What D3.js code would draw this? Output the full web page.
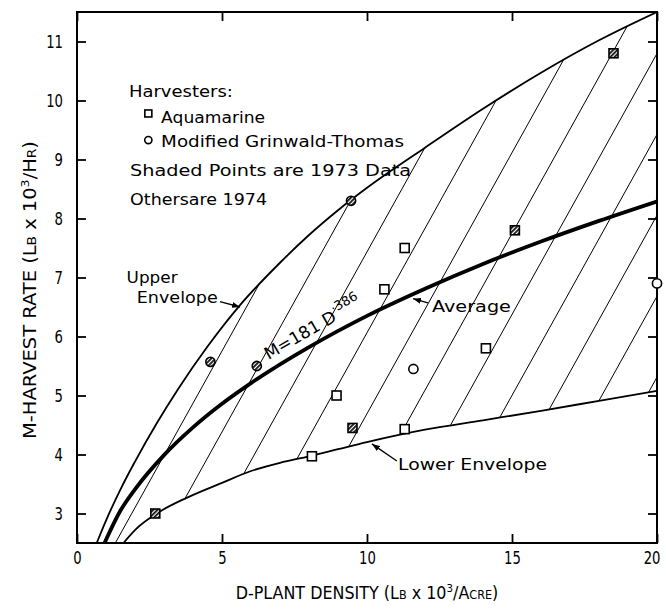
<!DOCTYPE html>
<html>
<head>
<meta charset="utf-8">
<script src="https://cdn.jsdelivr.net/npm/d3@7"></script>
<style>
  body { margin: 0; background: #fff; }
</style>
</head>
<body>
<div id="chart"></div>
<script>
// curves (D = plant density, M = harvest rate)
const upperD = [0.68, 1, 1.5, 2, 2.75, 3.5, 4.5, 5.6, 7, 8, 9, 10, 12, 14, 16, 18, 20];
const upperM = [2.5, 2.88, 3.41, 3.88, 4.53, 5.12, 5.83, 6.52, 7.25, 7.72, 8.14, 8.52, 9.2, 9.86, 10.47, 11.02, 11.5];

const lowerD = [1.6, 2, 2.75, 3.8, 5, 6, 7, 8, 9, 10, 12, 14, 16, 18, 20];
const lowerM = [2.5, 2.72, 3.0, 3.27, 3.52, 3.72, 3.86, 3.97, 4.09, 4.21, 4.42, 4.58, 4.74, 4.91, 5.08];

const avgD = [0.95, 1.5, 2, 3, 4, 5, 6, 8, 10, 12, 14, 16, 18, 20];
const avgM = [2.5, 3.05, 3.41, 3.99, 4.46, 4.86, 5.21, 5.82, 6.35, 6.81, 7.23, 7.61, 7.96, 8.29];

// harvester test points, year 1973 = shaded
const aquaD    = [2.7, 8.1, 9.5, 8.95, 11.3, 14.1, 10.6, 11.3, 15.1, 18.5];
const aquaM    = [3.0, 3.97, 4.45, 5.0, 4.43, 5.8, 6.8, 7.5, 7.8, 10.8];
const aquaYear = [1973, 1974, 1973, 1974, 1974, 1974, 1974, 1974, 1973, 1973];

const grinD    = [4.6, 6.2, 9.45, 11.6, 20];
const grinM    = [5.57, 5.5, 8.3, 5.45, 6.9];
const grinYear = [1973, 1973, 1973, 1974, 1974];

const xTicks = [0, 5, 10, 15, 20];
const yTicks = [3, 4, 5, 6, 7, 8, 9, 10, 11];

const width = 666, height = 610;
const margin = { top: 12, right: 9, bottom: 67, left: 77 };

const x = d3.scaleLinear().domain([0, 20]).range([margin.left, width - margin.right]);
const y = d3.scaleLinear().domain([2.5, 11.5]).range([height - margin.bottom, margin.top]);

const svg = d3.select('#chart').append('svg')
    .attr('width', width)
    .attr('height', height);

const defs = svg.append('defs');

defs.append('clipPath').attr('id', 'plot')
    .append('rect')
    .attr('x', x(0)).attr('y', y(11.5))
    .attr('width', x(20) - x(0)).attr('height', y(2.5) - y(11.5));

const lineGen = d3.line()
    .x(d => x(d[0]))
    .y(d => y(d[1]))
    .curve(d3.curveMonotoneX);

const upperPts = d3.zip(upperD, upperM);
const lowerPts = d3.zip(lowerD, lowerM);
const avgPts = d3.zip(avgD, avgM);

// region right of / below the upper envelope
defs.append('clipPath').attr('id', 'belowUpper')
    .append('path')
    .attr('d', lineGen(upperPts) + `L${x(20)},${y(2.5)}Z`);
// region left of / above the lower envelope
defs.append('clipPath').attr('id', 'aboveLower')
    .append('path')
    .attr('d', lineGen(lowerPts) + `L${x(20)},${y(11.5)}L${x(0)},${y(11.5)}L${x(0)},${y(2.5)}Z`);

// hatch fill for 1973 points
const pat = defs.append('pattern')
    .attr('id', 'shade')
    .attr('patternUnits', 'userSpaceOnUse')
    .attr('width', 3).attr('height', 3)
    .attr('patternTransform', 'rotate(45)');
pat.append('rect').attr('width', 3).attr('height', 3).attr('fill', '#fff');
pat.append('rect').attr('width', 1.8).attr('height', 3).attr('fill', '#111');

defs.append('marker')
    .attr('id', 'arrow')
    .attr('viewBox', '0 0 8 6')
    .attr('refX', 8).attr('refY', 3)
    .attr('markerWidth', 8).attr('markerHeight', 6)
    .attr('markerUnits', 'userSpaceOnUse')
    .attr('orient', 'auto')
    .append('path')
    .attr('d', 'M0,0L8,3L0,6Z')
    .attr('fill', '#000');

const plot = svg.append('g').attr('clip-path', 'url(#plot)');

// diagonal hatching between the envelopes
const hatch = { anchorD: 7.6, anchorM: 3.94, stepD: 1.55, slope: 1.8 };
const hatchG = plot.append('g').attr('clip-path', 'url(#belowUpper)')
    .append('g').attr('clip-path', 'url(#aboveLower)');
const ks = d3.range(-6, 16);
hatchG.selectAll('.hatch')
    .data(ks)
    .enter().append('line')
    .attr('class', 'hatch')
    .attr('x1', k => x(hatch.anchorD + k * hatch.stepD) - 400)
    .attr('y1', y(hatch.anchorM) + 400 * hatch.slope)
    .attr('x2', k => x(hatch.anchorD + k * hatch.stepD) + 400)
    .attr('y2', y(hatch.anchorM) - 400 * hatch.slope)
    .attr('stroke', '#000')
    .attr('stroke-width', 1);

plot.append('path')
    .attr('d', lineGen(upperPts))
    .attr('fill', 'none').attr('stroke', '#000').attr('stroke-width', 1.8);
plot.append('path')
    .attr('d', lineGen(lowerPts))
    .attr('fill', 'none').attr('stroke', '#000').attr('stroke-width', 1.8);
plot.append('path')
    .attr('d', lineGen(avgPts))
    .attr('fill', 'none').attr('stroke', '#000').attr('stroke-width', 3.8);

// frame
svg.append('rect')
    .attr('x', x(0)).attr('y', y(11.5))
    .attr('width', x(20) - x(0)).attr('height', y(2.5) - y(11.5))
    .attr('fill', 'none').attr('stroke', '#000').attr('stroke-width', 2);

// axes, ticks pointing inward
const narrowFont = '"DejaVu Sans", sans-serif';
const axisFont = g => g.selectAll('text')
    .attr('font-family', narrowFont)
    .attr('font-size', 18)
    .attr('fill', '#000')
    .attr('textLength', function () { return this.textContent.length * 8.4; })
    .attr('lengthAdjust', 'spacingAndGlyphs');
const cleanAxis = g => {
    g.select('.domain').remove();
    g.selectAll('line').attr('stroke', '#000').attr('stroke-width', 1.8);
};

svg.append('g')
    .attr('transform', `translate(${x(0)},0)`)
    .call(d3.axisLeft(y).tickValues(yTicks).tickSize(-9).tickPadding(14).tickFormat(d3.format('d')))
    .call(cleanAxis).call(axisFont);
svg.append('g')
    .attr('transform', `translate(${x(20)},0)`)
    .call(d3.axisRight(y).tickValues(yTicks).tickSize(-9).tickFormat(''))
    .call(cleanAxis);
const xAxisG = svg.append('g')
    .attr('transform', `translate(0,${y(2.5)})`)
    .call(d3.axisBottom(x).tickValues(xTicks).tickSize(-9).tickPadding(8).tickFormat(d3.format('d')))
    .call(cleanAxis).call(axisFont);
// last label sits against the page edge, keep it inside
xAxisG.selectAll('text').filter(d => d === 20).attr('text-anchor', 'end').attr('dx', 3);
svg.append('g')
    .attr('transform', `translate(0,${y(11.5)})`)
    .call(d3.axisTop(x).tickValues(xTicks).tickSize(-9).tickFormat(''))
    .call(cleanAxis);

// axis titles, small caps done by hand, squeezed to the reference width
function axisTitle(parent, parts, target) {
    const g = parent.append('g');
    const t = g.append('text')
        .attr('text-anchor', 'middle')
        .attr('font-family', narrowFont)
        .attr('font-size', 17);
    parts.forEach(p => {
        const s = t.append('tspan').text(p.t);
        if (p.small) s.attr('font-size', 12);
        if (p.sup) s.attr('font-size', 11).attr('dy', -7);
        if (p.down) s.attr('dy', 7);
    });
    const len = t.node().getComputedTextLength();
    t.attr('transform', `scale(${target / len},1)`);
    return g;
}
axisTitle(svg, [
    { t: 'M-HARVEST RATE (L' }, { t: 'B', small: true }, { t: ' x 10' },
    { t: '3', sup: true }, { t: '/H', down: true }, { t: 'R', small: true }, { t: ')' }
], 298).attr('transform', 'translate(36,290) rotate(-90)');
axisTitle(svg, [
    { t: 'D-PLANT DENSITY (L' }, { t: 'B', small: true }, { t: ' x 10' },
    { t: '3', sup: true }, { t: '/A', down: true }, { t: 'CRE', small: true }, { t: ')' }
], 263).attr('transform', `translate(${(x(0) + x(20)) / 2},599)`);

// data points
const drawSquares = (g, D, M, yr, size) => {
    g.selectAll('.sq')
        .data(d3.range(D.length))
        .enter().append('rect')
        .attr('class', 'sq')
        .attr('x', i => x(D[i]) - size / 2)
        .attr('y', i => y(M[i]) - size / 2)
        .attr('width', size).attr('height', size)
        .attr('fill', i => yr[i] === 1973 ? 'url(#shade)' : '#fff')
        .attr('stroke', '#000')
        .attr('stroke-width', 1.6);
};
const drawCircles = (g, D, M, yr, r) => {
    g.selectAll('.ci')
        .data(d3.range(D.length))
        .enter().append('circle')
        .attr('class', 'ci')
        .attr('cx', i => x(D[i]))
        .attr('cy', i => y(M[i]))
        .attr('r', r)
        .attr('fill', i => yr[i] === 1973 ? 'url(#shade)' : '#fff')
        .attr('stroke', '#000')
        .attr('stroke-width', 1.6);
};
drawSquares(svg.append('g'), aquaD, aquaM, aquaYear, 9);
drawCircles(svg.append('g'), grinD, grinM, grinYear, 4.6);

// annotations
const annoFont = '"DejaVu Sans", sans-serif';
const notes = [
    { t: 'Harvesters:', d: 1.79, m: 10.06, len: 104 },
    { t: 'Aquamarine', d: 2.9, m: 9.62, len: 104 },
    { t: 'Modified Grinwald-Thomas', d: 2.9, m: 9.21, len: 243 },
    { t: 'Shaded Points are 1973 Data', d: 1.83, m: 8.72, len: 281 },
    { t: 'Othersare 1974', d: 1.83, m: 8.23, len: 137 },
    { t: 'Upper', d: 1.71, m: 6.91, len: 51 },
    { t: 'Envelope', d: 2.06, m: 6.57, len: 81 },
    { t: 'Average', d: 12.24, m: 6.42, len: 79 },
    { t: 'Lower Envelope', d: 11.07, m: 3.74, len: 149 }
];
svg.selectAll('.note')
    .data(notes)
    .enter().append('text')
    .attr('class', 'note')
    .attr('x', n => x(n.d))
    .attr('y', n => y(n.m))
    .attr('font-family', annoFont)
    .attr('font-size', 16.5)
    .attr('textLength', n => n.len)
    .attr('lengthAdjust', 'spacingAndGlyphs')
    .text(n => n.t);

// legend symbols
drawSquares(svg.append('g'), [2.46], [9.78], [1974], 7);
drawCircles(svg.append('g'), [2.46], [9.33], [1974], 3.6);

// equation along the average curve
const eq = svg.append('text')
    .attr('transform', `translate(${x(6.6)},${y(5.6)}) rotate(-30)`)
    .attr('font-family', annoFont)
    .attr('font-size', 17);
eq.append('tspan').attr('textLength', 80).attr('lengthAdjust', 'spacingAndGlyphs').text('M=181 D');
eq.append('tspan').attr('font-size', 13).attr('dy', -8).text('·386');

// leader arrows
const arrows = [
    { from: [4.93, 6.59], to: [5.62, 6.5] },
    { from: [12.1, 6.57], to: [11.59, 6.64] },
    { from: [11.03, 3.89], to: [10.17, 4.18] }
];
svg.selectAll('.arrow')
    .data(arrows)
    .enter().append('line')
    .attr('class', 'arrow')
    .attr('x1', a => x(a.from[0])).attr('y1', a => y(a.from[1]))
    .attr('x2', a => x(a.to[0])).attr('y2', a => y(a.to[1]))
    .attr('stroke', '#000')
    .attr('stroke-width', 1.3)
    .attr('marker-end', 'url(#arrow)');
</script>
</body>
</html>
